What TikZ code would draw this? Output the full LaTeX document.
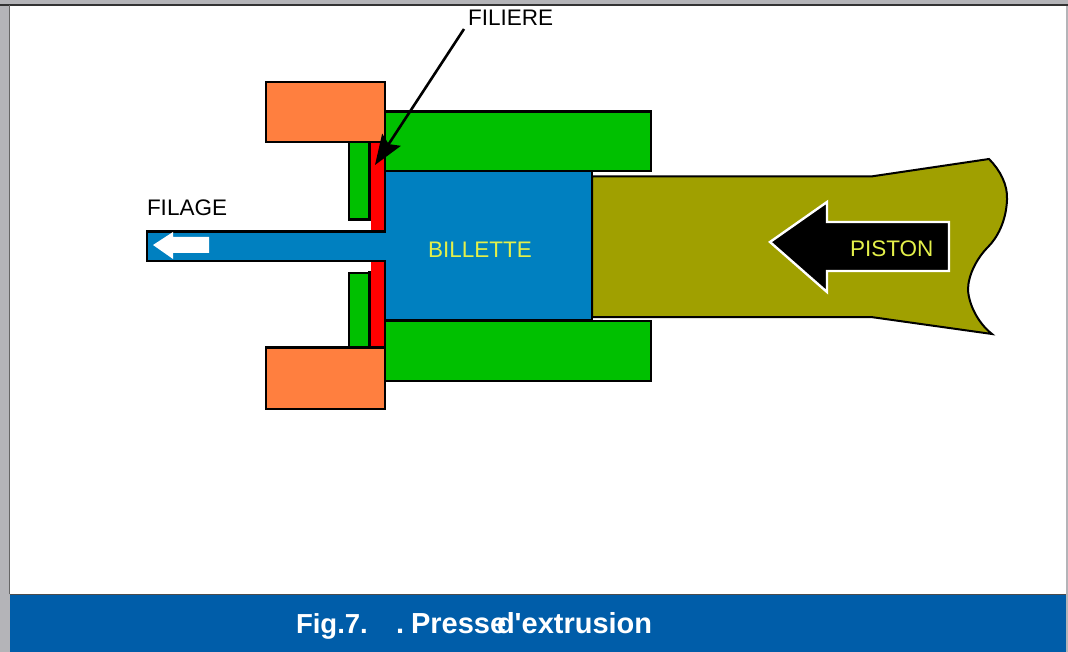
\documentclass[tikz,border=0pt]{standalone}
\usepackage{fontspec}
\setmainfont{Liberation Sans}
\usetikzlibrary{arrows.meta}
\definecolor{framegray}{HTML}{B4B4B8}
\definecolor{bandblue}{HTML}{005DA9}
\definecolor{orangeblk}{HTML}{FF7F3F}
\definecolor{greenblk}{HTML}{00C000}
\definecolor{redblk}{HTML}{FF0000}
\definecolor{metalblue}{HTML}{0080C0}
\definecolor{olive}{HTML}{A0A000}
\definecolor{labelyellow}{HTML}{E4F04A}
\tikzset{
  part/.style={draw=black,line width=2.4pt,line join=miter},
  lbl/.style={inner sep=0pt,outer sep=0pt,anchor=base west,font=\fontsize{22.5}{24}\selectfont,text=black},
  captext/.style={inner sep=0pt,outer sep=0pt,anchor=base west,font=\fontsize{29}{32}\selectfont\bfseries,text=white}
}
\begin{document}
\begin{tikzpicture}[x=1pt,y=-1pt]
\useasboundingbox (0,0) rectangle (1068,652);
% frame
\fill[framegray] (0,0) rectangle (1068,652);
\fill[white] (9.5,5.5) rectangle (1066,594);
\draw[black!80,line width=1.6pt] (0,5.2) -- (1068,5.2);
\draw[black!60,line width=0.8pt] (9.5,5.5) -- (9.5,594);
\fill[bandblue] (9.5,594) rectangle (1066,652);
\draw[black!70,line width=0.8pt] (9.5,594) -- (1066,594);
% piston
\draw[part,fill=olive,line width=2pt] (592,176.5) -- (871,176.5) -- (989,159)
  .. controls (1000,170) and (1008,185) .. (1007,200)
  .. controls (1006,222) and (997,238) .. (988,247)
  .. controls (977,258) and (968,275) .. (968,290)
  .. controls (969,305) and (978,323) .. (992,334)
  -- (871,317) -- (592,317) -- cycle;
% extruded bar + billet
\draw[part,fill=metalblue] (385,231.5) -- (147,231.5) -- (147,261) -- (385,261);
\draw[part,fill=metalblue] (385,171) rectangle (592,320.5);
\fill[metalblue] (370,232.7) rectangle (386.3,259.8);
% red die
\draw[part,fill=redblk] (369.5,142) -- (369.5,231.5) -- (385,231.5) -- (385,142);
\draw[part,fill=redblk] (369.5,347.5) -- (369.5,261) -- (385,261) -- (385,347.5);
\draw[white,line width=2.4pt] (369.5,221) -- (369.5,230.3);
\draw[white,line width=2.4pt] (369.5,262.2) -- (369.5,271.5);
\draw[black,line width=2.4pt] (147,231.5) -- (386,231.5) (147,261) -- (386,261);
% green blocks
\draw[part,fill=greenblk] (385,111.5) rectangle (651,171);
\draw[part,fill=greenblk] (385,321) rectangle (651,381);
\draw[part,fill=greenblk] (349,142) rectangle (369,219.5);
\draw[part,fill=greenblk] (349,273) rectangle (369,347.5);
% orange blocks
\draw[part,fill=orangeblk] (266,82) rectangle (385,142);
\draw[part,fill=orangeblk] (266,347.5) rectangle (385,409);
% small white arrow
\fill[white] (153,245) -- (173,232) -- (173,237) -- (209,237) -- (209,253) -- (173,253) -- (173,259) -- cycle;
% piston arrow
\draw[white,fill=black,line width=2.4pt,line join=miter] (770,242) -- (827,202) -- (827,222) -- (949,222) -- (949,271) -- (827,271) -- (827,292) -- cycle;
% labels
\node[lbl] (filiere) at (468,26) {FILIERE};
\node[lbl] (filage) at (147,215.5) {FILAGE};
\node[lbl,text=labelyellow] (billette) at (428,258) {BILLETTE};
\node[lbl,text=labelyellow] (piston) at (850,256.5) {PISTON};
% leader
\coordinate (leaderstart) at (464,29);
\coordinate (leadertip) at (375,165);
\draw[black,line width=2.6pt,-{Stealth[length=30pt,width=22pt,inset=5pt]}] (leaderstart) -- (leadertip);
% caption
\node[captext,font=\fontsize{27.5}{32}\selectfont\bfseries] (capa) at (296,633) {Fig.7.};
\node[captext] (capb) at (396,633) {.};
\node[captext] (capc) at (411,633) {Presse};
\node[captext] (capd) at (497,633) {d\textquotesingle extrusion};
\end{tikzpicture}
\end{document}
